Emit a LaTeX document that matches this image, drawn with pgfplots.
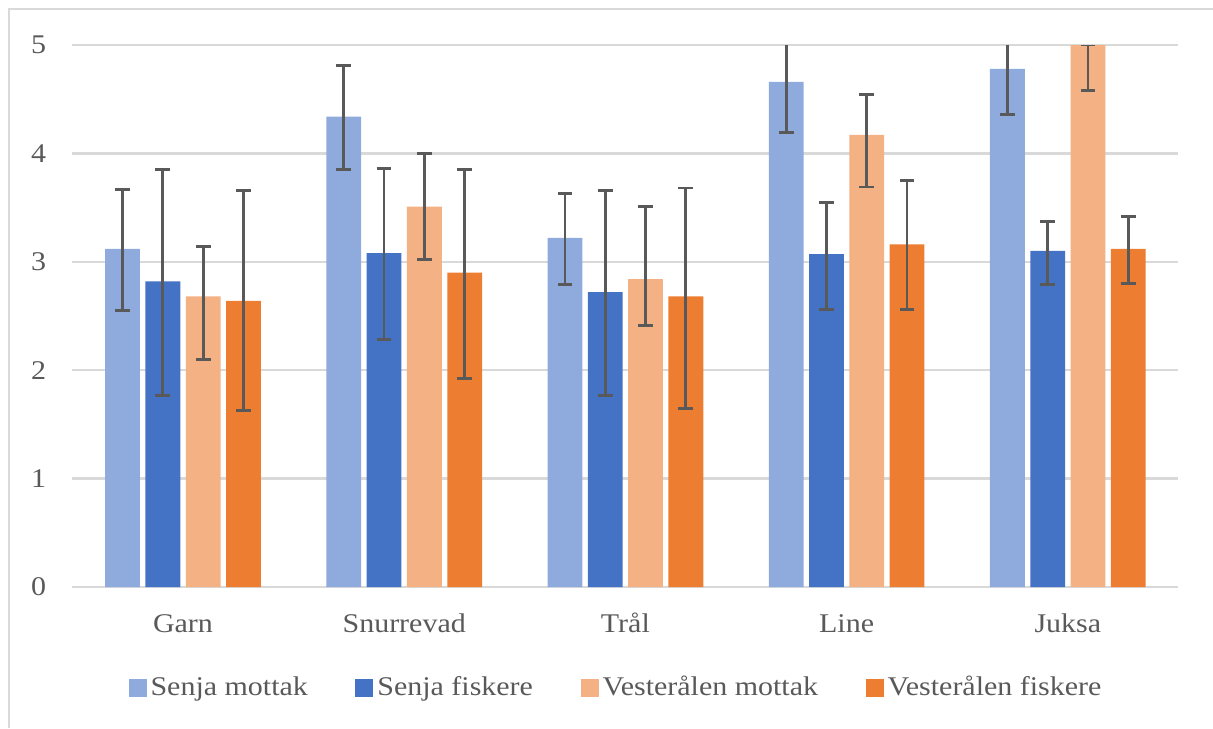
\documentclass[border=0pt]{standalone}
\usepackage{pgfplots}
\pgfplotsset{compat=1.18}
\usepackage{pgfplotstable}
\usepackage{fontspec}
\setmainfont{Liberation Serif}[FakeStretch=1.11]
\definecolor{smottak}{HTML}{8FAADC}
\definecolor{sfisk}{HTML}{4472C4}
\definecolor{vmottak}{HTML}{F4B183}
\definecolor{vfisk}{HTML}{ED7D31}
\definecolor{labelgray}{HTML}{595959}
\definecolor{gridgray}{HTML}{D9D9D9}
\definecolor{errgray}{HTML}{595959}
% value, error plus (p), error minus (m)
\pgfplotstableread{
x SM SMp SMm SF SFp SFm VM VMp VMm VF VFp VFm
0 3.12 0.55 0.57 2.82 1.03 1.05 2.68 0.46 0.58 2.64 1.02 1.01
1 4.34 0.47 0.49 3.08 0.78 0.80 3.51 0.49 0.49 2.90 0.95 0.98
2 3.22 0.41 0.43 2.72 0.94 0.95 2.84 0.67 0.43 2.68 1.00 1.03
3 4.66 0.47 0.47 3.07 0.48 0.51 4.17 0.37 0.48 3.16 0.59 0.60
4 4.78 0.42 0.42 3.10 0.27 0.31 5.00 0.00 0.42 3.12 0.30 0.32
}\datatable
\begin{document}
\begin{tikzpicture}[x=1pt,y=1pt]
\useasboundingbox (0,0) rectangle (606.5,364);
\draw[color=gridgray, line width=1pt] (4.35,0) -- (4.35,359.5) -- (606.5,359.5);
\begin{axis}[
  at={(36.2pt,70.5pt)}, anchor=south west,
  scale only axis, width=553pt, height=271pt,
  ybar=2.75pt, bar width=17.4pt,
  xmin=-0.5, xmax=4.5, ymin=0, ymax=5,
  xtick={0,1,2,3,4},
  xticklabels={Garn,Snurrevad,Trål,Line,Juksa},
  ytick={0,1,2,3,4,5},
  ymajorgrids, grid style={gridgray, line width=1.2pt},
  axis line style={draw=none},
  major tick length=0pt,
  /pgf/number format/assume math mode=true,
  tick label style={font=\fontsize{13.5}{16}\selectfont, text=labelgray},
  yticklabel style={anchor=east, inner sep=0pt, xshift=-13pt},
  xticklabel style={anchor=base, inner sep=0pt, yshift=-22.5pt},
  legend columns=4,
  legend image code/.code={\fill[#1] (0pt,-4.5pt) rectangle (9pt,4.5pt);},
  legend style={draw=none, fill=none, at={(0.4924,0)}, anchor=center, yshift=-50.25pt,
    font=\fontsize{13.5}{16}\selectfont, text=labelgray,
    /tikz/every even column/.append style={column sep=21.75pt}},
  error bars/y dir=both, error bars/y explicit,
  error bars/error bar style={line width=1.4pt, draw=errgray},
  error bars/error mark options={rotate=90, mark size=3.7pt, line width=1.4pt, draw=errgray},
]
\addplot[fill=smottak, draw=none] table[x=x, y=SM, y error plus=SMp, y error minus=SMm] {\datatable};
\addlegendentry{Senja mottak}
\addplot[fill=sfisk, draw=none] table[x=x, y=SF, y error plus=SFp, y error minus=SFm] {\datatable};
\addlegendentry{Senja fiskere}
\addplot[fill=vmottak, draw=none] table[x=x, y=VM, y error plus=VMp, y error minus=VMm] {\datatable};
\addlegendentry{Vesterålen mottak}
\addplot[fill=vfisk, draw=none] table[x=x, y=VF, y error plus=VFp, y error minus=VFm] {\datatable};
\addlegendentry{Vesterålen fiskere}
\end{axis}
\end{tikzpicture}
\end{document}
